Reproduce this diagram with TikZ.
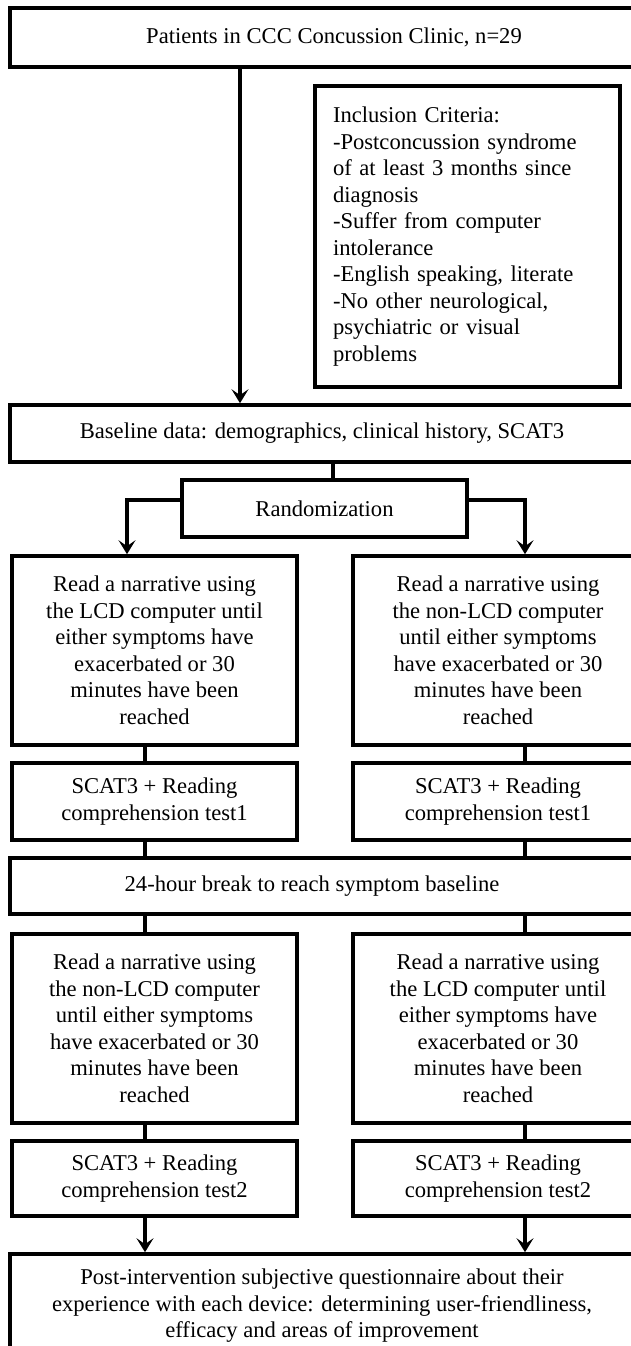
\documentclass[tikz,border=0pt]{standalone}
\usepackage{fontspec}
\setmainfont{Liberation Serif}
\usetikzlibrary{arrows.meta}
\begin{document}
\begin{tikzpicture}[x=1pt,y=-1pt,
  box/.style={draw=black, line width=3.6pt, fill=white, align=center, inner sep=0pt,
    font=\fontsize{22.6}{26.5}\selectfont},
  conn/.style={line width=3.2pt, draw=black},
  arr/.style={conn, -{Stealth[length=14pt,width=17pt,inset=6pt]}},
]
\useasboundingbox (0,0) rectangle (631,1346);
\clip (0,0) rectangle (631,1346);
\fill[white] (0,0) rectangle (631,1346);

% nodes
\node[box, minimum width=648pt, minimum height=59pt] (top) at (334,37.5)
  {Patients in CCC Concussion Clinic, n=29};
\node[box, minimum width=305pt, minimum height=301pt, text width=269pt, align=left] (incl) at (467.5,236.5)
  {Inclusion Criteria:\\-Postconcussion syndrome\\of at least 3 months since\\diagnosis\\-Suffer from computer\\intolerance\\-English speaking, literate\\-No other neurological,\\psychiatric or visual\\problems};
\node[box, minimum width=624pt, minimum height=57pt] (base) at (322,433.5)
  {Baseline data: demographics, clinical history, SCAT3};
\node[box, minimum width=285pt, minimum height=57pt] (rand) at (324.5,508.5)
  {Randomization};
\node[box, minimum width=285pt, minimum height=189pt] (readAL) at (154.5,650.5)
  {Read a narrative using\\the LCD computer until\\either symptoms have\\exacerbated or 30\\minutes have been\\reached};
\node[box, minimum width=290pt, minimum height=189pt] (readAR) at (498,650.5)
  {Read a narrative using\\the non-LCD computer\\until either symptoms\\have exacerbated or 30\\minutes have been\\reached};
\node[box, minimum width=285pt, minimum height=77pt] (scatAL) at (154.5,801.5)
  {SCAT3 + Reading\\comprehension test1};
\node[box, minimum width=290pt, minimum height=77pt] (scatAR) at (498,801.5)
  {SCAT3 + Reading\\comprehension test1};
\node[box, minimum width=624pt, minimum height=56pt] (brk) at (322,886)
  {\hspace*{-20pt}24-hour break to reach symptom baseline};
\node[box, minimum width=285pt, minimum height=189pt] (readBL) at (154.5,1028.5)
  {Read a narrative using\\the non-LCD computer\\until either symptoms\\have exacerbated or 30\\minutes have been\\reached};
\node[box, minimum width=290pt, minimum height=189pt] (readBR) at (498,1028.5)
  {Read a narrative using\\the LCD computer until\\either symptoms have\\exacerbated or 30\\minutes have been\\reached};
\node[box, minimum width=285pt, minimum height=75pt] (scatBL) at (154.5,1178.5)
  {SCAT3 + Reading\\comprehension test2};
\node[box, minimum width=290pt, minimum height=75pt] (scatBR) at (498,1178.5)
  {SCAT3 + Reading\\comprehension test2};
\node[box, minimum width=624pt, minimum height=104pt] (final) at (322,1306)
  {Post-intervention subjective questionnaire about their\\experience with each device: determining user-friendliness,\\efficacy and areas of improvement};

% helper coordinates
\coordinate (xa) at (240,0);
\coordinate (xb) at (333,0);
\coordinate (xl) at (145,0);
\coordinate (xr) at (525,0);
\coordinate (ly) at (127,500);
\coordinate (ry) at (525,500);

% connectors
\draw[arr] (top.south -| xa) -- (base.north -| xa);
\draw[conn] (base.south -| xb) -- (rand.north -| xb);
\draw[arr] (rand.west |- ly) -- (ly) -- (readAL.north -| ly);
\draw[arr] (rand.east |- ry) -- (ry) -- (readAR.north -| ry);
\draw[conn] (readAL.south -| xl) -- (scatAL.north -| xl);
\draw[conn] (readAR.south -| xr) -- (scatAR.north -| xr);
\draw[conn] (scatAL.south -| xl) -- (brk.north -| xl);
\draw[conn] (scatAR.south -| xr) -- (brk.north -| xr);
\draw[conn] (brk.south -| xl) -- (readBL.north -| xl);
\draw[conn] (brk.south -| xr) -- (readBR.north -| xr);
\draw[conn] (readBL.south -| xl) -- (scatBL.north -| xl);
\draw[conn] (readBR.south -| xr) -- (scatBR.north -| xr);
\draw[arr] (scatBL.south -| xl) -- (final.north -| xl);
\draw[arr] (scatBR.south -| xr) -- (final.north -| xr);
\end{tikzpicture}
\end{document}
